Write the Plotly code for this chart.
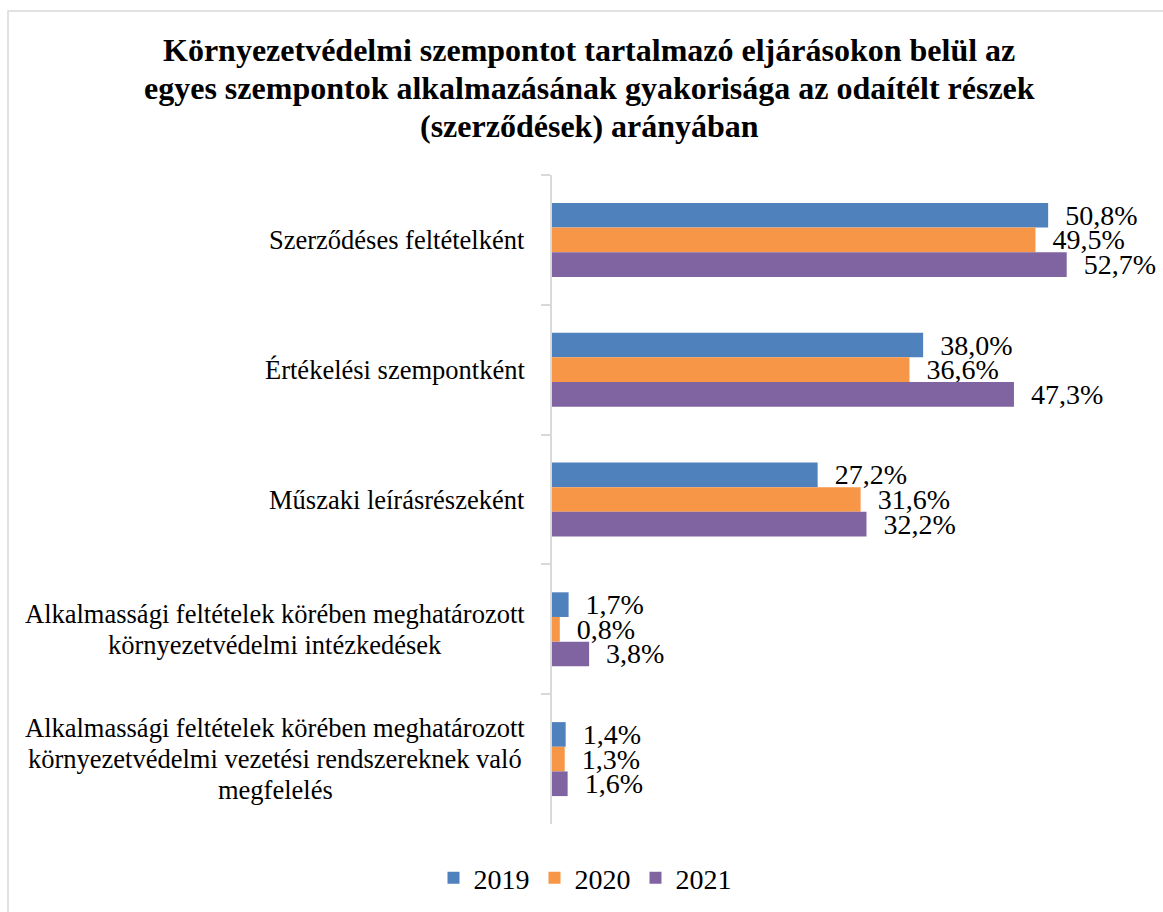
import plotly.graph_objects as go

categories = [
    "Szerződéses feltételként",
    "Értékelési szempontként",
    "Műszaki leírásrészeként",
    "Alkalmassági feltételek körében meghatározott<br>környezetvédelmi intézkedések",
    "Alkalmassági feltételek körében meghatározott<br>környezetvédelmi vezetési rendszereknek való<br>megfelelés",
]
years = ["2019", "2020", "2021"]
values_2019 = [50.8, 38.0, 27.2, 1.7, 1.4]
values_2020 = [49.5, 36.6, 31.6, 0.8, 1.3]
values_2021 = [52.7, 47.3, 32.2, 3.8, 1.6]
colors = ["#4F81BD", "#F79646", "#8064A2"]
title_lines = [
    "Környezetvédelmi szempontot tartalmazó eljárásokon belül az",
    "egyes szempontok alkalmazásának gyakorisága az odaítélt részek",
    "(szerződések) arányában",
]

FONT = "Liberation Serif"
L, R, T, B = 552, 25, 175, 88
W, H = 1163, 912
PW, PH = W - L - R, H - T - B


def px_x(px):
    return (px - L) / PW


def px_y(py):
    return (H - B - py) / PH


fig = go.Figure()
for name, vals, col in zip(years, [values_2019, values_2020, values_2021], colors):
    fig.add_trace(go.Bar(
        y=categories, x=vals, name=name, orientation="h",
        marker=dict(color=col, line=dict(width=0)),
        texttemplate="\u00a0\u00a0%{x:.1f}%", textposition="outside",
        textfont=dict(family=FONT, size=28, color="black"),
        constraintext="none", cliponaxis=False,
    ))

annotations = []
LINE_H = 31
for c in categories:
    parts = c.split("<br>")
    n = len(parts)
    if n == 1:
        annotations.append(dict(
            x=px_x(527), xref="paper", y=c, yref="y", text=parts[0], showarrow=False,
            xanchor="right", yanchor="middle",
            font=dict(family=FONT, size=26.5, color="black"),
        ))
    else:
        for i, p in enumerate(parts):
            annotations.append(dict(
                x=px_x(275), xref="paper", y=c, yref="y", text=p, showarrow=False,
                xanchor="center", yanchor="middle",
                yshift=-(i - (n - 1) / 2) * LINE_H,
                font=dict(family=FONT, size=26.5, color="black"),
            ))

title_y = [50, 88, 126]
for line, ty in zip(title_lines, title_y):
    annotations.append(dict(
        x=px_x(589), xref="paper", y=px_y(ty), yref="paper", text="<b>" + line + "</b>",
        showarrow=False, xanchor="center", yanchor="middle",
        font=dict(family=FONT, size=32, color="black"),
    ))

fig.update_layout(
    width=W, height=H,
    margin=dict(l=L, r=R, t=T, b=B),
    paper_bgcolor="white", plot_bgcolor="white",
    separators=", ",
    barmode="group", bargap=0.43, bargroupgap=0,
    font=dict(family=FONT, size=26, color="black"),
    xaxis=dict(visible=False, range=[0, 60], showgrid=False, zeroline=False),
    yaxis=dict(
        type="category", autorange="reversed",
        showline=True, linecolor="#d9d9d9", linewidth=2,
        ticks="outside", ticklen=9, tickwidth=2, tickcolor="#d9d9d9",
        tickson="boundaries", showticklabels=False, showgrid=False,
    ),
    legend=dict(
        orientation="h", xref="container", yref="container",
        x=0.503, xanchor="center", y=1 - 878 / 912, yanchor="middle",
        font=dict(family=FONT, size=28, color="black"),
    ),
    annotations=annotations,
    shapes=[dict(
        type="rect", xref="paper", yref="paper",
        x0=px_x(8), x1=1.07, y0=-0.16, y1=px_y(11),
        line=dict(color="#d9d9d9", width=1.5), fillcolor="rgba(0,0,0,0)", layer="below",
    )],
)

fig.write_html("out.html", config={"displayModeBar": False},
               post_script="document.body.style.margin='0';")
